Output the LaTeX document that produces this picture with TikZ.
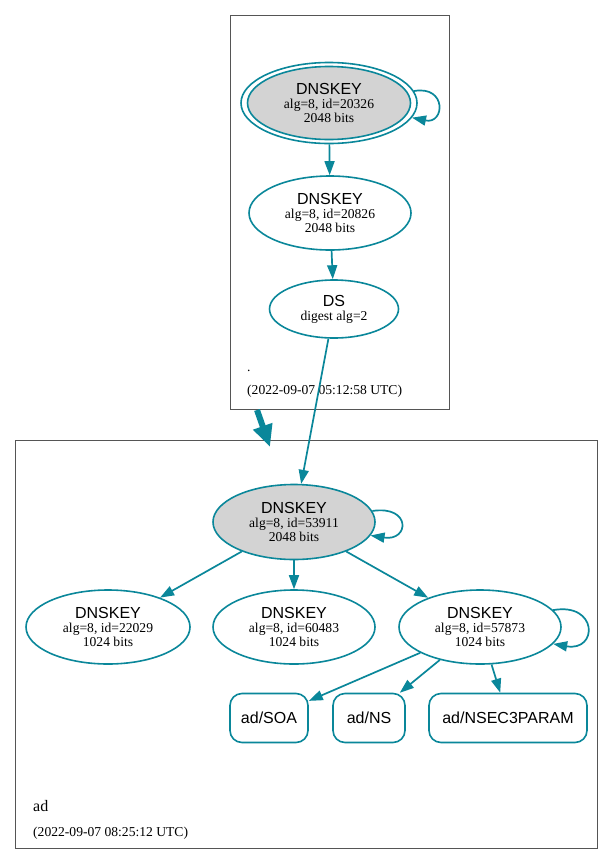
\documentclass[tikz,border=0pt]{standalone}
\usepackage{fontspec}
\setmainfont{Liberation Serif}
\newfontfamily\sansf{Liberation Sans}
\usetikzlibrary{shapes.geometric,arrows.meta}
\definecolor{secure}{HTML}{0A879A}
\definecolor{keyfill}{HTML}{D3D3D3}
\definecolor{clusterc}{HTML}{555555}
\newcommand{\keylabel}[2]{{\sansf\fontsize{16}{16}\selectfont DNSKEY}\\alg=8, id=#1\\#2 bits}
\tikzset{
  keynode/.style={ellipse, draw=secure, line width=1.6pt, inner sep=0pt,
    minimum width=162pt, minimum height=74pt, align=center,
    font=\fontsize{13.6}{14}\selectfont},
  ksk/.style={keynode, fill=keyfill},
  rrnode/.style={rectangle, rounded corners=12pt, draw=secure, line width=1.6pt,
    minimum height=49pt, inner sep=0pt, font=\sansf\fontsize{16}{16}\selectfont},
  edge/.style={draw=secure, line width=1.7pt, -{Triangle[length=14pt,width=10pt]}},
  bigedge/.style={draw=secure, line width=6pt, -{Triangle[length=22pt,width=19pt]}},
  cluster/.style={draw=clusterc, line width=0.9pt},
  clabel/.style={anchor=base west, inner sep=0pt},
}
\begin{document}
\begin{tikzpicture}[x=1pt,y=-1pt]
\useasboundingbox[fill=white] (0,0) rectangle (613,865);
% clusters
\draw[cluster] (230,15) rectangle (449,409);
\draw[cluster] (15,440) rectangle (597,848);
\node[clabel, font=\fontsize{13.6}{14}\selectfont] (dotlbl) at (247,371) {.};
\node[clabel, font=\fontsize{13.6}{14}\selectfont] (ts1) at (247,394) {(2022-09-07 05:12:58 UTC)};
\node[clabel, font=\fontsize{16}{16}\selectfont] (adlbl) at (33,811) {ad};
\node[clabel, font=\fontsize{13.6}{14}\selectfont] (ts2) at (33,836) {(2022-09-07 08:25:12 UTC)};
% top zone
\node[ellipse, draw=secure, line width=1.6pt, minimum width=176pt, minimum height=81pt, inner sep=0pt] (k1o) at (329,103) {};
\node[ksk, minimum width=163pt, minimum height=73pt] (k1) at (329,103) {\keylabel{20326}{2048}};
\node[keynode] (k2) at (330,213) {\keylabel{20826}{2048}};
\node[keynode, minimum width=129pt, minimum height=58pt] (ds) at (334,309) {{\sansf\fontsize{16}{16}\selectfont DS}\\digest alg=2};
% bottom zone
\node[ksk, minimum height=75pt] (b1) at (294,522) {\keylabel{53911}{2048}};
\node[keynode, minimum width=164pt] (c1) at (108,627) {\keylabel{22029}{1024}};
\node[keynode] (c2) at (294,627) {\keylabel{60483}{1024}};
\node[keynode] (c3) at (480,627) {\keylabel{57873}{1024}};
\node[rrnode, minimum width=78pt] (soa) at (269,718) {ad/SOA};
\node[rrnode, minimum width=72pt] (ns) at (369,718) {ad/NS};
\node[rrnode, minimum width=158pt] (nsec) at (508,718) {ad/NSEC3PARAM};
% edges
\draw[edge] (k1o) -- (k2);
\draw[edge] (k2) -- (ds);
\draw[edge] (ds) -- (b1);
\draw[edge] (b1) -- (c1);
\draw[edge] (b1) -- (c2);
\draw[edge] (b1) -- (c3);
\draw[edge] (c3) -- (soa);
\draw[edge] (c3) -- (ns);
\draw[edge] (c3) -- (nsec);
% self loops
\draw[edge] (k1o.8) .. controls +(33,-6) and +(33,7) .. (k1o.-10);
\draw[edge] (b1.8) .. controls +(39,-6) and +(39,6) .. (b1.-10);
\draw[edge] (c3.13) .. controls +(45,-8) and +(45,8) .. (c3.-13);
% delegation arrow
\coordinate (dfrom) at (257,410);
\coordinate (dto) at (270,447);
\draw[bigedge] (dfrom) -- (dto);
\end{tikzpicture}
\end{document}
